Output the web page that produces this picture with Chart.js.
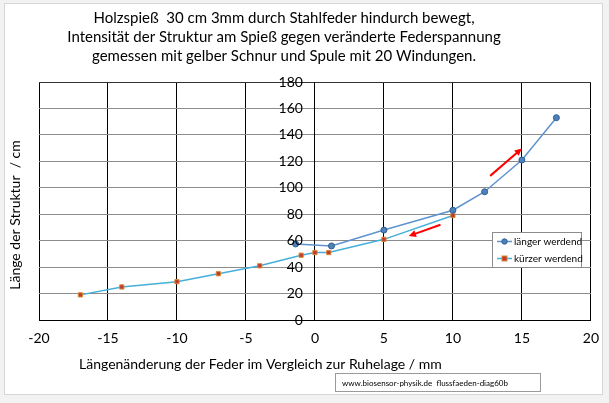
<!DOCTYPE html>
<html lang="de">
<head>
<meta charset="UTF-8">
<title>Holzspieß durch Stahlfeder</title>
<script src="https://cdn.jsdelivr.net/npm/chart.js"></script>
<style>
  body { margin: 0; background: #fff; }
  canvas { display: block; }
</style>
</head>
<body>
<canvas id="chart" width="609" height="403"></canvas>
<script>
// Messwerte: Längenänderung der Feder (mm) -> Länge der Struktur (cm)
const laengerX = [-1.4, 1.2, 5, 10, 12.3, 15, 17.5];
const laengerY = [57.5, 56, 68, 83, 97, 121, 153];
const kuerzerX = [10, 5, 1, 0, -1, -4, -7, -10, -14, -17];
const kuerzerY = [79, 61, 51, 51, 49, 41, 35, 29, 25, 19];

const seriesNames = ["länger werdend", "kürzer werdend"];
const titleLines = [
  "Holzspieß  30 cm 3mm durch Stahlfeder hindurch bewegt,",
  "Intensität der Struktur am Spieß gegen veränderte Federspannung",
  "gemessen mit gelber Schnur und Spule mit 20 Windungen."
];
const xTitle = "Längenänderung der Feder im Vergleich zur Ruhelage / mm";
const yTitle = "Länge der Struktur  / cm";
const credit = "www.biosensor-physik.de  flussfaeden-diag60b";

// rote Pfeile (Richtung der Messung), in Achsenwerten
const arrows = [
  [12.7, 109, 15, 129.7],
  [9.1, 72, 6.8, 63.5]
];

const FONT = "Lato, 'Open Sans', sans-serif";

function toPoints(xs, ys) {
  return xs.map((x, i) => ({ x: x, y: ys[i] }));
}

const decor = {
  id: "decor",
  beforeDraw(chart) {
    const ctx = chart.ctx;
    ctx.save();
    ctx.fillStyle = "#f2f2f2";
    ctx.fillRect(0, 0, chart.width, chart.height);
    ctx.fillStyle = "#fff";
    ctx.fillRect(4, 3, 599, 392);
    ctx.strokeStyle = "#d6d6d6";
    ctx.lineWidth = 1;
    ctx.strokeRect(4.5, 3.5, 598, 391);
    ctx.restore();
  },
  afterDatasetsDraw(chart) {
    const ctx = chart.ctx;
    const xs = chart.scales.x, ys = chart.scales.y;

    // Pfeile
    ctx.save();
    ctx.strokeStyle = "#ff0000";
    ctx.fillStyle = "#ff0000";
    ctx.lineWidth = 2;
    arrows.forEach(a => {
      const x1 = xs.getPixelForValue(a[0]), y1 = ys.getPixelForValue(a[1]);
      const x2 = xs.getPixelForValue(a[2]), y2 = ys.getPixelForValue(a[3]);
      const ang = Math.atan2(y2 - y1, x2 - x1);
      ctx.beginPath();
      ctx.moveTo(x1, y1);
      ctx.lineTo(x2 - 5 * Math.cos(ang), y2 - 5 * Math.sin(ang));
      ctx.stroke();
      ctx.beginPath();
      ctx.moveTo(x2, y2);
      ctx.lineTo(x2 - 8 * Math.cos(ang - 0.45), y2 - 8 * Math.sin(ang - 0.45));
      ctx.lineTo(x2 - 8 * Math.cos(ang + 0.45), y2 - 8 * Math.sin(ang + 0.45));
      ctx.closePath();
      ctx.fill();
    });
    ctx.restore();

    // Legende
    ctx.save();
    ctx.fillStyle = "#fff";
    ctx.fillRect(492.5, 232.5, 89, 35);
    ctx.strokeStyle = "#8c8c8c";
    ctx.lineWidth = 1;
    ctx.strokeRect(492.5, 232.5, 89, 35);
    chart.data.datasets.forEach((ds, i) => {
      const y = 241.5 + i * 17;
      ctx.strokeStyle = ds.borderColor;
      ctx.lineWidth = 1.5;
      ctx.beginPath();
      ctx.moveTo(497, y);
      ctx.lineTo(512, y);
      ctx.stroke();
      ctx.fillStyle = ds.pointBackgroundColor;
      ctx.strokeStyle = ds.pointBorderColor;
      ctx.lineWidth = 1;
      if (ds.pointStyle === "rect") {
        ctx.fillRect(502, y - 2.5, 5, 5);
        ctx.strokeRect(502, y - 2.5, 5, 5);
      } else {
        ctx.beginPath();
        ctx.arc(504.5, y, 2.7, 0, Math.PI * 2);
        ctx.fill();
        ctx.stroke();
      }
      ctx.fillStyle = "#000";
      ctx.font = "10px " + FONT;
      ctx.textAlign = "left";
      ctx.textBaseline = "middle";
      ctx.fillText(ds.label, 514, y);
    });
    ctx.restore();
  },
  afterDraw(chart) {
    const ctx = chart.ctx;
    const xs = chart.scales.x, ys = chart.scales.y;
    ctx.save();
    ctx.fillStyle = "#000";
    ctx.textBaseline = "middle";

    // y-Beschriftung links der Nulllinie
    ctx.font = "14px " + FONT;
    ctx.textAlign = "right";
    const x0 = xs.getPixelForValue(0);
    ys.ticks.forEach(t => ctx.fillText(String(t.value), x0 - 12, ys.getPixelForValue(t.value)));

    ctx.font = "15px " + FONT;
    ctx.textAlign = "center";
    titleLines.forEach((t, i) => ctx.fillText(t, 284, 18 + i * 19));

    ctx.font = "14px " + FONT;
    ctx.textAlign = "left";
    ctx.fillText(xTitle, 79, 364);

    ctx.save();
    ctx.translate(15, 215);
    ctx.rotate(-Math.PI / 2);
    ctx.textAlign = "center";
    ctx.fillText(yTitle, 0, 0);
    ctx.restore();

    ctx.fillStyle = "#fff";
    ctx.fillRect(335.5, 373.5, 205, 18);
    ctx.strokeStyle = "#9a9a9a";
    ctx.lineWidth = 1;
    ctx.strokeRect(335.5, 373.5, 205, 18);
    ctx.fillStyle = "#000";
    ctx.font = "8px " + FONT;
    ctx.textAlign = "left";
    ctx.fillText(credit, 342, 383);
    ctx.restore();
  }
};

new Chart(document.getElementById("chart"), {
  type: "scatter",
  data: {
    datasets: [
      {
        label: seriesNames[0],
        data: toPoints(laengerX, laengerY),
        showLine: true,
        borderColor: "#5f93cf",
        borderWidth: 1.5,
        pointStyle: "circle",
        pointRadius: 3,
        pointBackgroundColor: "#4f81bd",
        pointBorderColor: "#2f5f8f",
        pointBorderWidth: 1
      },
      {
        label: seriesNames[1],
        data: toPoints(kuerzerX, kuerzerY),
        showLine: true,
        borderColor: "#45afd8",
        borderWidth: 1.5,
        pointStyle: "rect",
        pointRadius: 3,
        pointBackgroundColor: "#c0392b",
        pointBorderColor: "#d9893a",
        pointBorderWidth: 1
      }
    ]
  },
  options: {
    responsive: false,
    animation: false,
    layout: { padding: { left: 39, right: 17, top: 82, bottom: 0 } },
    plugins: {
      legend: { display: false },
      title: { display: false },
      tooltip: { enabled: false }
    },
    scales: {
      x: {
        type: "linear",
        position: "bottom",
        min: -20,
        max: 20,
        ticks: { stepSize: 5, color: "#000", font: { family: FONT, size: 14 }, padding: 10 },
        grid: { color: "#000", lineWidth: 1, drawTicks: false },
        border: { color: "#000", width: 1 },
        afterFit(s) { s.height = 83; }
      },
      y: {
        type: "linear",
        position: { x: 0 },
        min: 0,
        max: 180,
        ticks: { stepSize: 20, display: false },
        grid: {
          color: c => (c.tick && c.tick.value === 180 ? "#333" : "#8c8c8c"),
          lineWidth: 1,
          drawTicks: false
        },
        border: { color: "#000", width: 1 }
      }
    }
  },
  plugins: [decor]
});
</script>
</body>
</html>
